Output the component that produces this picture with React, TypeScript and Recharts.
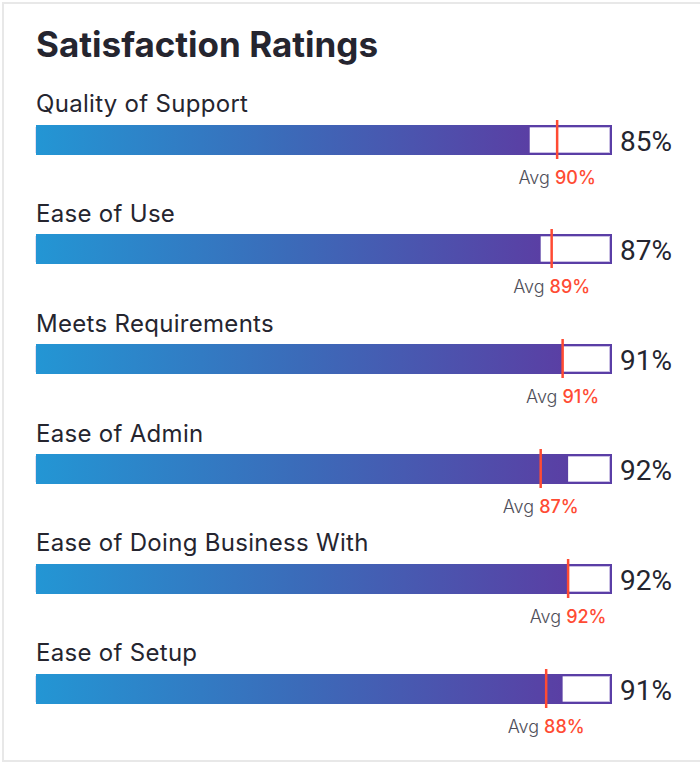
import React from 'react';
import { BarChart, Bar, XAxis, YAxis, ReferenceLine } from 'recharts';

const categories = [
  'Quality of Support',
  'Ease of Use',
  'Meets Requirements',
  'Ease of Admin',
  'Ease of Doing Business With',
  'Ease of Setup',
];
const scores = [85, 87, 91, 92, 92, 91];
const averages = [90, 89, 91, 87, 92, 88];

// the track starts a little below zero in the original widget
const AXIS_MIN = -5;
const AXIS_MAX = 100;

const ROW_STEP = 109.8;
const FIRST_CHART_TOP = 119.5;

const PURPLE = '#5a3ea6';
const RED = '#ff4b33';
const TEXT = '#25252f';
const FONT = 'Inter, Roboto, sans-serif';

const TrackBackground = (props: any) => {
  const { x, y, width, height } = props;
  return (
    <g>
      <rect x={x} y={y} width={width} height={height} fill={PURPLE} />
      <rect
        x={x}
        y={y + 2.5}
        width={width - 2.5}
        height={height - 5}
        fill="#ffffff"
        stroke="#c9bfe3"
        strokeWidth={1}
      />
    </g>
  );
};

const AvgLabel = ({ viewBox, avg }: any) => {
  if (!viewBox) return null;
  const cx = viewBox.x;
  const baseY = viewBox.y + viewBox.height + 25;
  return (
    <text x={cx} y={baseY} textAnchor="middle" fontSize={18} fontFamily={FONT}>
      <tspan fill="#4f4f5a" fontWeight={300}>Avg </tspan>
      <tspan fill={RED} fontWeight={500}>{avg}%</tspan>
    </text>
  );
};

const ScoreTick = (props: any) => {
  const { x, y, payload } = props;
  return (
    <text x={x} y={y} dy={11} textAnchor="start" fontSize={28} fill={TEXT} fontFamily="Roboto, sans-serif">
      {payload.value}
    </text>
  );
};

const RatingRow = ({ index }: { index: number }) => {
  const data = [
    {
      name: `${scores[index]}%`,
      range: [AXIS_MIN, scores[index]],
    },
  ];
  const gradId = `ratingGrad${index}`;
  const top = FIRST_CHART_TOP + index * ROW_STEP;

  return (
    <>
      <div
        style={{
          position: 'absolute',
          left: 36,
          top: top - 27.3,
          fontSize: 24,
          lineHeight: '24px',
          letterSpacing: 0.3,
          fontWeight: 400,
          color: TEXT,
          whiteSpace: 'nowrap',
        }}
      >
        {categories[index]}
      </div>
      <div style={{ position: 'absolute', left: 0, top }}>
        <BarChart
          width={700}
          height={76}
          data={data}
          layout="vertical"
          margin={{ top: 0, right: 0, bottom: 37, left: 36 }}
          barCategoryGap={0}
        >
          <defs>
            <linearGradient id={gradId} x1="0" y1="0" x2="1" y2="0">
              <stop offset="0%" stopColor="#2396d4" />
              <stop offset="50%" stopColor="#3b6bb9" />
              <stop offset="100%" stopColor="#5a3fa4" />
            </linearGradient>
          </defs>
          <XAxis type="number" domain={[AXIS_MIN, AXIS_MAX]} allowDataOverflow hide />
          <YAxis
            type="category"
            dataKey="name"
            orientation="right"
            width={88}
            axisLine={false}
            tickLine={false}
            tickSize={0}
            tickMargin={8}
            tick={<ScoreTick />}
          />
          <Bar
            dataKey="range"
            barSize={30}
            fill={`url(#${gradId})`}
            background={<TrackBackground />}
            isAnimationActive={false}
          />
          <ReferenceLine
            x={averages[index]}
            stroke={RED}
            strokeWidth={2.5}
            label={<AvgLabel avg={averages[index]} />}
          />
        </BarChart>
      </div>
    </>
  );
};

export default function App() {
  return (
    <div
      style={{
        position: 'absolute',
        left: 0,
        top: 0,
        width: 700,
        height: 764,
        background: '#ffffff',
        fontFamily: FONT,
        overflow: 'hidden',
      }}
    >
      <div
        style={{
          position: 'absolute',
          left: 2,
          top: 2,
          width: 720,
          height: 760,
          border: '2px solid #e8e8e8',
          boxSizing: 'border-box',
        }}
      />
      <div
        style={{
          position: 'absolute',
          left: 36,
          top: 26.8,
          fontSize: 35,
          lineHeight: '35px',
          fontWeight: 700,
          color: TEXT,
          whiteSpace: 'nowrap',
        }}
      >
        Satisfaction Ratings
      </div>
      {categories.map((_, i) => (
        <RatingRow key={categories[i]} index={i} />
      ))}
    </div>
  );
}
